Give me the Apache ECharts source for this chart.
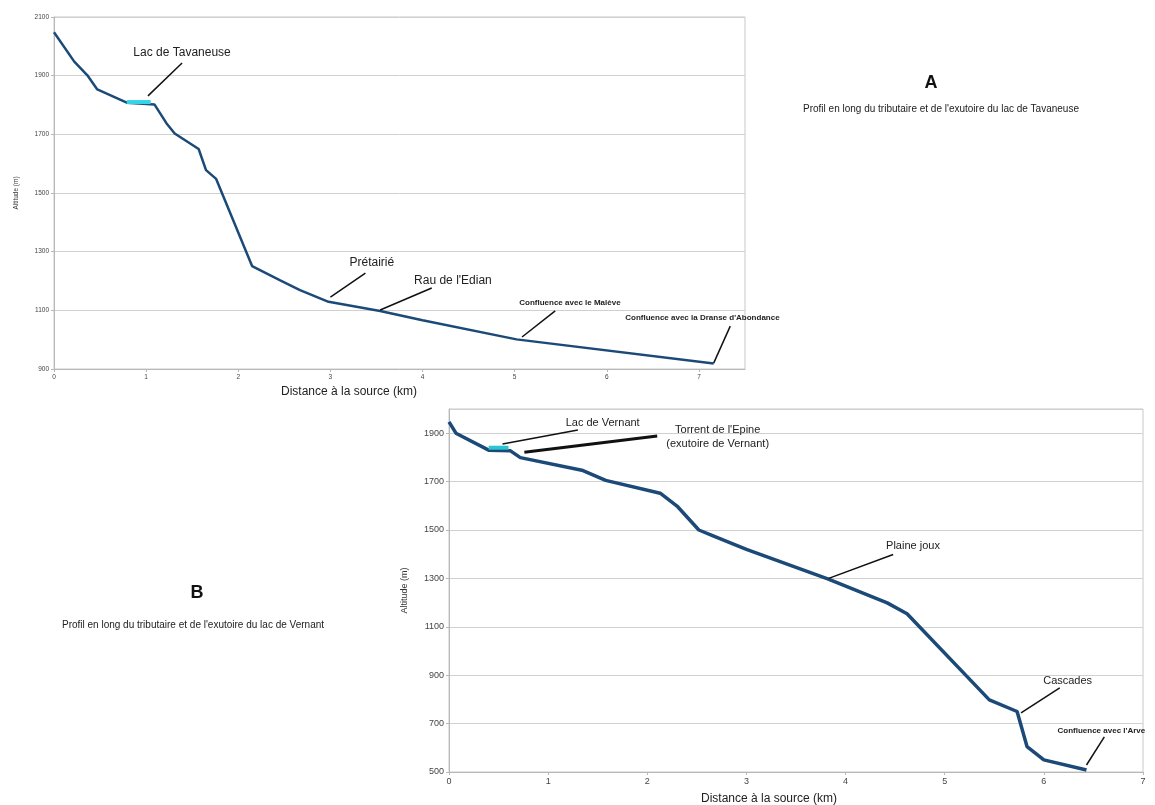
<!DOCTYPE html>
<html><head><meta charset="utf-8">
<script src="https://cdn.jsdelivr.net/npm/echarts@6/dist/echarts.min.js"></script>
<style>html,body{margin:0;padding:0;background:#fff}#c{width:1155px;height:805px}</style>
</head><body><div id="c"></div>
<script>
// Chart A: Tavaneuse profile
const distA = [0, 0.22, 0.36, 0.47, 0.79, 1.09, 1.22, 1.31, 1.57, 1.65, 1.76, 2.15, 2.45, 2.67, 2.98, 3.54, 4.0, 5.02, 7.16];
const altA  = [2048, 1948, 1902, 1853, 1808, 1802, 1738, 1703, 1650, 1578, 1548, 1251, 1203, 1169, 1129, 1098, 1066, 1001, 919];
const lakeA_dist = [0.79, 1.05];
const lakeA_alt = [1810, 1810];
// Chart B: Vernant profile
const distB = [0, 0.07, 0.40, 0.62, 0.72, 1.34, 1.58, 2.13, 2.30, 2.52, 2.67, 3.0, 3.82, 4.42, 4.62, 5.45, 5.73, 5.83, 6.0, 6.43];
const altB  = [1947, 1900, 1830, 1827, 1799, 1747, 1705, 1652, 1599, 1500, 1475, 1420, 1298, 1199, 1154, 798, 750, 605, 550, 508];
const lakeB_dist = [0.40, 0.60];
const lakeB_alt = [1840, 1840];
const xTicks = [0, 1, 2, 3, 4, 5, 6, 7];

// annotations: [grid, text, textX, textY, lineFromX, lineFromY, lineToX, lineToY, style]
const annotations = [
  [0, "Lac de Tavaneuse", 1.39, 1977, 1.39, 1943, 1.02, 1831, "n"],
  [0, "Prétairié", 3.45, 1261, 3.38, 1227, 3.0, 1145, "n"],
  [0, "Rau de l'Edian", 4.33, 1200, 4.10, 1176, 3.54, 1101, "n"],
  [0, "Confluence avec le Malève", 5.60, 1125, 5.44, 1098, 5.08, 1009, "b"],
  [0, "Confluence avec la Dranse d'Abondance", 6.20, 1074, 7.34, 1046, 7.16, 920, "bl"],
  [1, "Lac de Vernant", 1.55, 1942, 1.30, 1913, 0.54, 1855, "n2"],
  [1, "Torrent de l'Epine\n(exutoire de Vernant)", 2.71, 1885, 2.10, 1888, 0.76, 1821, "n2t"],
  [1, "Plaine joux", 4.68, 1432, 4.48, 1399, 3.83, 1300, "n2"],
  [1, "Cascades", 6.24, 877, 6.16, 848, 5.77, 744, "n2"],
  [1, "Confluence avec l'Arve", 6.58, 670, 6.61, 645, 6.43, 529, "b2"]
];

const zip = (a, b) => a.map((v, i) => [v, b[i]]);
const chart = echarts.init(document.getElementById('c'));
const FONT = 'Liberation Sans, Arial, sans-serif';
const plain = v => String(v);

function xAxisCfg(gi, max, fs) {
  return {
    type: 'value', gridIndex: gi, min: 0, max: max, interval: 1,
    axisLine: {show: true, lineStyle: {color: '#b8b8b8'}},
    axisTick: {show: true, length: 3, lineStyle: {color: '#b8b8b8'}},
    splitLine: {show: false},
    axisLabel: {fontSize: fs, color: '#444', fontFamily: FONT, margin: 5, formatter: plain, showMaxLabel: max === 7},
  };
}
function yAxisCfg(gi, min, max, fs, nameFs, gap) {
  return {
    type: 'value', gridIndex: gi, min: min, max: max, interval: 200,
    name: 'Altitude (m)', nameLocation: 'middle', nameRotate: 90, nameGap: gap,
    nameTextStyle: {fontSize: nameFs, color: '#333', fontFamily: FONT},
    axisLine: {show: true, lineStyle: {color: '#b8b8b8'}},
    axisTick: {show: true, length: 3, lineStyle: {color: '#b8b8b8'}},
    splitLine: {show: true, lineStyle: {color: '#d0d0d0', width: 1}},
    axisLabel: {fontSize: fs, color: '#444', fontFamily: FONT, margin: 5, formatter: plain, showMaxLabel: max === 2100},
  };
}

chart.setOption({
  animation: false,
  grid: [
    {left: 54, top: 17, right: 410, bottom: 436, show: true, borderColor: '#c8c8c8', borderWidth: 1},
    {left: 449, top: 409, right: 12, bottom: 33, show: true, borderColor: '#c8c8c8', borderWidth: 1}
  ],
  xAxis: [xAxisCfg(0, 7.5, 6.5), xAxisCfg(1, 7, 9)],
  yAxis: [yAxisCfg(0, 900, 2100, 6.5, 6.5, 34), yAxisCfg(1, 500, 2000, 9, 9, 40)],
  series: [
    {type: 'line', xAxisIndex: 0, yAxisIndex: 0, data: zip(distA, altA), showSymbol: false,
     lineStyle: {color: '#1c4a78', width: 2.5}, z: 3},
    {type: 'line', xAxisIndex: 0, yAxisIndex: 0, data: zip(lakeA_dist, lakeA_alt), showSymbol: false,
     lineStyle: {color: '#33d4e8', width: 4}, z: 4},
    {type: 'line', xAxisIndex: 1, yAxisIndex: 1, data: zip(distB, altB), showSymbol: false,
     lineStyle: {color: '#1c4a78', width: 3.5}, z: 3},
    {type: 'line', xAxisIndex: 1, yAxisIndex: 1, data: zip(lakeB_dist, lakeB_alt), showSymbol: false,
     lineStyle: {color: '#2ec4d4', width: 4}, z: 4}
  ]
});

const g = [];
annotations.forEach(a => {
  const [gi, txt, tx, ty, x1, y1, x2, y2, st] = a;
  const finder = {xAxisIndex: gi, yAxisIndex: gi};
  const pt = chart.convertToPixel(finder, [tx, ty]);
  const p1 = chart.convertToPixel(finder, [x1, y1]);
  const p2 = chart.convertToPixel(finder, [x2, y2]);
  const bold = st.startsWith('b');
  const left = st === 'bl';
  const fs = bold ? 8 : (gi === 0 ? 12 : 11);
  g.push({type: 'text', x: pt[0], y: pt[1], z: 10,
    style: {text: txt, fill: '#222', font: (bold ? 'bold ' : '') + fs + 'px ' + FONT,
      textAlign: left ? 'left' : 'center', textVerticalAlign: 'middle', lineHeight: 14}});
  g.push({type: 'line', z: 10, shape: {x1: p1[0], y1: p1[1], x2: p2[0], y2: p2[1]},
    style: {stroke: '#111', lineWidth: st === 'n2t' ? 3 : 1.5}});
});
g.push(
  {type: 'text', x: 349, y: 392, style: {text: 'Distance à la source (km)', fill: '#222', font: '12px ' + FONT, textAlign: 'center', textVerticalAlign: 'middle'}},
  {type: 'text', x: 769, y: 799, style: {text: 'Distance à la source (km)', fill: '#222', font: '12px ' + FONT, textAlign: 'center', textVerticalAlign: 'middle'}},
  {type: 'text', x: 931, y: 83, style: {text: 'A', fill: '#111', font: 'bold 18px ' + FONT, textAlign: 'center', textVerticalAlign: 'middle'}},
  {type: 'text', x: 941, y: 109, style: {text: "Profil en long du tributaire et de l'exutoire du lac de Tavaneuse", fill: '#222', font: '10px ' + FONT, textAlign: 'center', textVerticalAlign: 'middle'}},
  {type: 'text', x: 197, y: 593, style: {text: 'B', fill: '#111', font: 'bold 18px ' + FONT, textAlign: 'center', textVerticalAlign: 'middle'}},
  {type: 'text', x: 193, y: 625, style: {text: "Profil en long du tributaire et de l'exutoire du lac de Vernant", fill: '#222', font: '10px ' + FONT, textAlign: 'center', textVerticalAlign: 'middle'}}
);
chart.setOption({graphic: g});
</script></body></html>
